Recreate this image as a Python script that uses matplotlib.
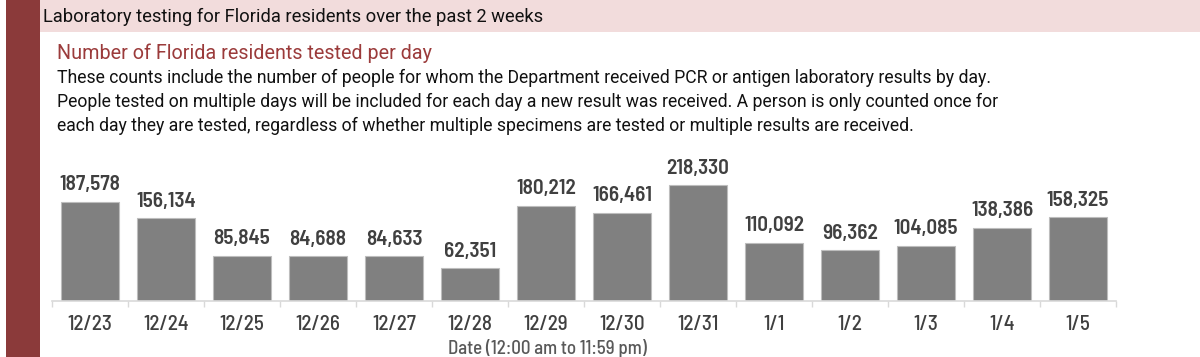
import matplotlib
matplotlib.use("Agg")
import matplotlib.pyplot as plt
from matplotlib.patches import Rectangle
from matplotlib import font_manager

dates = ["12/23", "12/24", "12/25", "12/26", "12/27", "12/28", "12/29",
         "12/30", "12/31", "1/1", "1/2", "1/3", "1/4", "1/5"]
tested = [187578, 156134, 85845, 84688, 84633, 62351, 180212,
          166461, 218330, 110092, 96362, 104085, 138386, 158325]

header = "Laboratory testing for Florida residents over the past 2 weeks"
subtitle = "Number of Florida residents tested per day"
body = ["These counts include the number of people for whom the Department received PCR or antigen laboratory results by day.",
        "People tested on multiple days will be included for each day a new result was received. A person is only counted once for",
        "each day they are tested, regardless of whether multiple specimens are tested or multiple results are received."]
xlabel = "Date (12:00 am to 11:59 pm)"

names = {f.name for f in font_manager.fontManager.ttflist}
def pick(*cands):
    for c in cands:
        if c in names:
            return c
    return "DejaVu Sans"

TXT = [pick("Roboto", "PT Sans", "Lato"), "DejaVu Sans"]
NUM = [pick("Barlow Semi Condensed", "Roboto Condensed", "Archivo Narrow"), "DejaVu Sans"]
plt.rcParams["font.family"] = TXT

W, H = 1200, 357
fig = plt.figure(figsize=(W / 100, H / 100), dpi=100)
renderer = fig.canvas.get_renderer()

def fx(px):
    return px / W

def fy(py):
    return 1 - py / H

def fit_size(s, target_px, family, weight="normal"):
    t = fig.text(0, 0, s, fontsize=10, fontweight=weight, family=family)
    w = t.get_window_extent(renderer=renderer).width
    t.remove()
    return 10 * target_px / w

# left dark red stripe
fig.patches.append(Rectangle((fx(6), 0), fx(34), 1, transform=fig.transFigure,
                             facecolor="#8b3a3a", edgecolor="none", zorder=0))
# header band
fig.patches.append(Rectangle((fx(40), fy(32)), 1 - fx(40), 32 / H, transform=fig.transFigure,
                             facecolor="#f2dcdc", edgecolor="none", zorder=0))

fig.text(fx(43), fy(17), header, fontsize=fit_size(header, 500, TXT), family=TXT,
         color="#111111", va="center", ha="left")
fig.text(fx(57), fy(53), subtitle, fontsize=fit_size(subtitle, 375, TXT), family=TXT,
         color="#9b3b3b", va="center", ha="left")
bsize = fit_size(body[0], 940, TXT)
for i, line in enumerate(body):
    fig.text(fx(57), fy(78 + i * 24), line, fontsize=bsize, family=TXT,
             color="#111111", va="center", ha="left")

ax = fig.add_axes([fx(52), fy(301), fx(1116) - fx(52), 151 / H])
x = list(range(len(dates)))
ax.bar(x, tested, width=0.77, color="#808080", edgecolor="#bdbdbd", linewidth=0.8, zorder=2)
ax.set_xlim(-0.5, len(dates) - 0.5)
ax.set_ylim(0, 151 * 1890)

lsize = fit_size("187,578", 61, NUM, weight="semibold")
for xi, v in zip(x, tested):
    ax.annotate(f"{v:,}", (xi, v), xytext=(0, 7.5), textcoords="offset pixels",
                ha="center", va="bottom", fontsize=lsize, fontweight="semibold",
                family=NUM, color="#404040")

for s in ["top", "right", "left"]:
    ax.spines[s].set_visible(False)
ax.spines["bottom"].set_color("#d9d9d9")
ax.spines["bottom"].set_linewidth(1.2)
ax.set_yticks([])
ax.set_xticks([i + 0.5 for i in range(-1, len(dates))], minor=False)
ax.set_xticklabels([])
ax.tick_params(axis="x", which="major", length=4.5, color="#d9d9d9", width=1)
ax.set_xticks(x, minor=True)
tsize = fit_size("12/28", 45, NUM, weight="medium")
ax.set_xticklabels(dates, minor=True, family=NUM, fontweight="medium")
ax.tick_params(axis="x", which="minor", length=0, pad=10, labelsize=tsize, labelcolor="#404040")
ax.patch.set_alpha(0)

fig.text(fx(547), fy(348), xlabel, fontsize=fit_size(xlabel, 200, NUM, weight="medium"),
         fontweight="medium", family=NUM, color="#595959", ha="center", va="center")

fig.savefig("out.png", dpi=100)
